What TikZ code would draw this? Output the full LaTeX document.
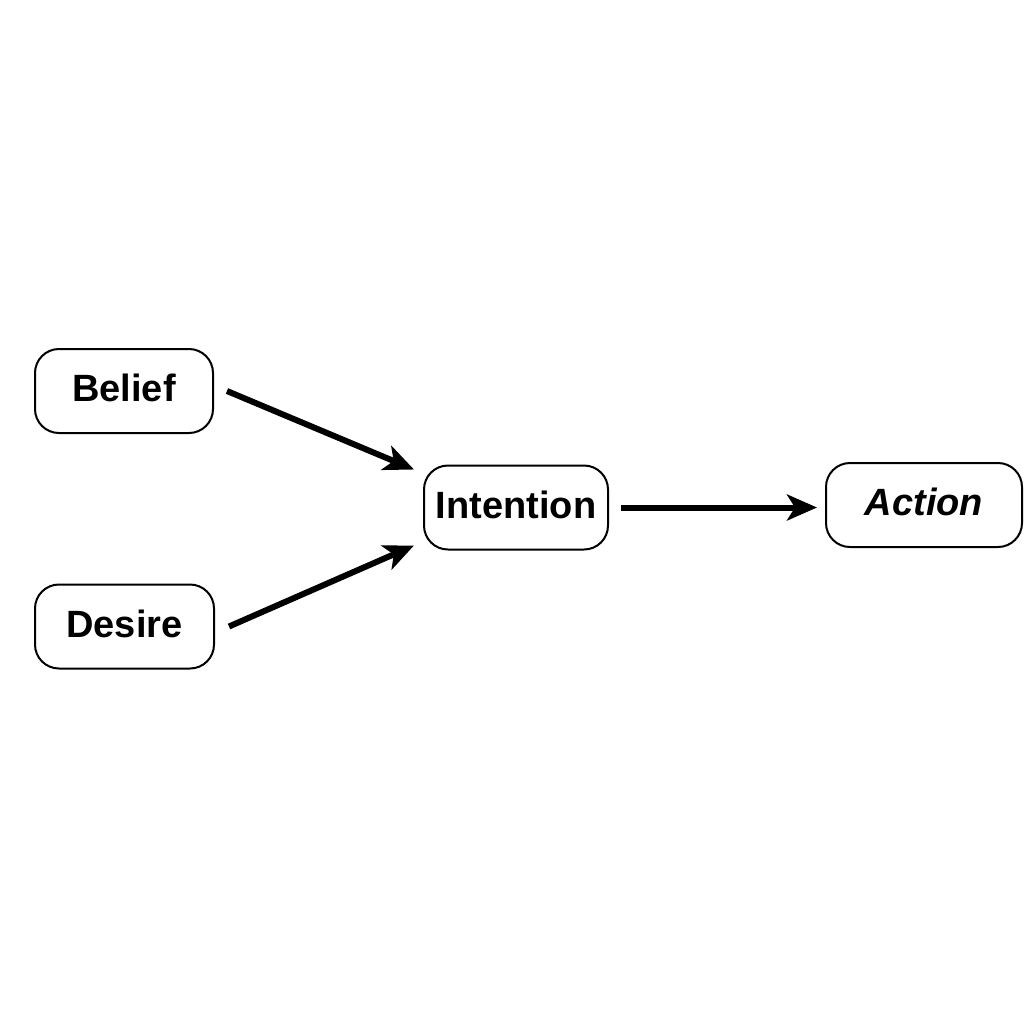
\documentclass[tikz,border=0pt]{standalone}
\usepackage{fontspec}
\setmainfont{Liberation Sans}
\usetikzlibrary{arrows.meta}

\begin{document}
\begin{tikzpicture}[x=0.5pt,y=-0.5pt,
    box/.style={draw,line width=1pt,rounded corners=12pt,minimum height=42pt,
      inner sep=0pt,text depth=3pt,font=\fontsize{19}{22}\selectfont\bfseries},
    arr/.style={line width=3pt,-{Stealth[length=15pt,width=13pt,inset=4pt]}}]
  \useasboundingbox (0,0) rectangle (1024,1024);
  \node[box,minimum width=89pt] (belief) at (124,391) {Belief};
  \node[box,minimum width=89.5pt] (desire) at (124.5,626.5) {Desire};
  \node[box,minimum width=92pt] (intention) at (516,507.5) {Intention};
  \node[box,minimum width=98pt] (action) at (924,505) {\itshape Action};
  \draw[arr] ([xshift=6.5pt]belief.east) -- ([xshift=-4.5pt,yshift=-2.5pt]intention.north west);
  \draw[arr] ([xshift=7pt]desire.east) -- ([xshift=-4.5pt,yshift=2.5pt]intention.south west);
  \draw[arr] ([xshift=6pt]intention.east) -- ([xshift=-4pt]action.west |- intention.east);
\end{tikzpicture}
\end{document}
